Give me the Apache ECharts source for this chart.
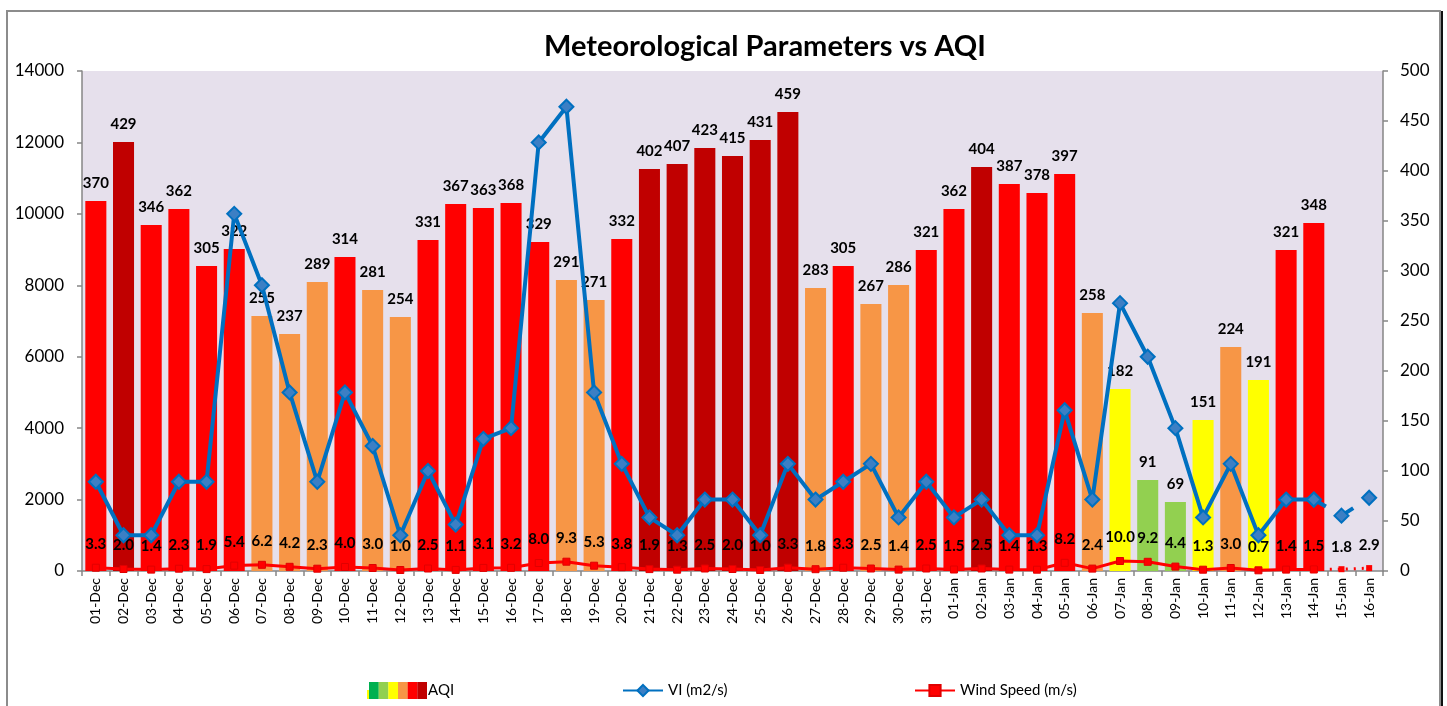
<!DOCTYPE html>
<html><head><meta charset="utf-8">
<script src="https://cdn.jsdelivr.net/npm/echarts@6/dist/echarts.min.js"></script>
<style>html,body{margin:0;padding:0;background:#fff}#c{width:1447px;height:706px}</style>
</head><body><div id="c"></div>
<script>
const categories = ['01-Dec','02-Dec','03-Dec','04-Dec','05-Dec','06-Dec','07-Dec','08-Dec','09-Dec','10-Dec',
  '11-Dec','12-Dec','13-Dec','14-Dec','15-Dec','16-Dec','17-Dec','18-Dec','19-Dec','20-Dec',
  '21-Dec','22-Dec','23-Dec','24-Dec','25-Dec','26-Dec','27-Dec','28-Dec','29-Dec','30-Dec','31-Dec',
  '01-Jan','02-Jan','03-Jan','04-Jan','05-Jan','06-Jan','07-Jan','08-Jan','09-Jan','10-Jan',
  '11-Jan','12-Jan','13-Jan','14-Jan','15-Jan','16-Jan'];
const aqiValues = [370,429,346,362,305,322,255,237,289,314,
  281,254,331,367,363,368,329,291,271,332,
  402,407,423,415,431,459,283,305,267,286,321,
  362,404,387,378,397,258,182,91,69,151,
  224,191,321,348,null,null];
const viValues = [2500,1000,1000,2500,2500,10000,8000,5000,2500,5000,
  3500,1000,2800,1300,3700,4000,12000,13000,5000,3000,
  1500,1000,2000,2000,1000,3000,2000,2500,3000,1500,2500,
  1500,2000,1000,1000,4500,2000,7500,6000,4000,1500,
  3000,1000,2000,2000,1550,2050];
const windValues = [3.3,2.0,1.4,2.3,1.9,5.4,6.2,4.2,2.3,4.0,
  3.0,1.0,2.5,1.1,3.1,3.2,8.0,9.3,5.3,3.8,
  1.9,1.3,2.5,2.0,1.0,3.3,1.8,3.3,2.5,1.4,2.5,
  1.5,2.5,1.4,1.3,8.2,2.4,10.0,9.2,4.4,1.3,
  3.0,0.7,1.4,1.5,1.8,2.9];
const lastMeasured = 44; // index of 14-Jan, after which lines are drawn broken

function aqiColor(v){
  if (v > 400) return '#C00000';
  if (v > 300) return '#FF0000';
  if (v > 200) return '#F79646';
  if (v > 100) return '#FFFF00';
  if (v > 50) return '#92D050';
  return '#00B050';
}

// legend icon for AQI (colour scale stripes)
const cv = document.createElement('canvas');
cv.width = 60; cv.height = 17;
const cx = cv.getContext('2d');
cx.fillStyle = '#FFFF00'; cx.fillRect(0, 8, 2, 9);
['#00B050','#92D050','#FFFF00','#F79646','#FF0000','#C00000'].forEach((c, i) => {
  cx.fillStyle = c; cx.fillRect(2 + i * 9.67, 0, 9.8, 17);
});
const aqiIcon = 'image://' + cv.toDataURL();

const viMain = viValues.map((v, i) => i <= lastMeasured ? v : null);
const viTail = viValues.map((v, i) => i >= lastMeasured ? v : null);
const windMain = windValues.map((v, i) => i <= lastMeasured ? v : null);
const windTail = windValues.map((v, i) => i >= lastMeasured ? v : null);

const FONT = 'Lato, "Open Sans", sans-serif';
const chart = echarts.init(document.getElementById('c'), null, {renderer: 'canvas'});
chart.setOption({
  backgroundColor: '#fff',
  animation: false,
  textStyle: {fontFamily: FONT},
  title: {
    text: 'Meteorological Parameters vs AQI',
    left: 539, top: 27,
    textStyle: {fontSize: 29, fontWeight: 'bold', color: '#000', fontFamily: FONT}
  },
  graphic: [
    {type: 'rect', shape: {x: 7, y: 11, width: 1433, height: 710}, style: {fill: 'none', stroke: '#8C8C8C', lineWidth: 2}, silent: true, z: -1},
    {type: 'line', shape: {x1: 1442, y1: 11, x2: 1442, y2: 706}, style: {stroke: '#111', lineWidth: 2}, silent: true, z: -1}
  ],
  legend: [
    {data: [{name: 'AQI', icon: aqiIcon}], left: 362, top: 677, itemWidth: 60, itemHeight: 17, itemGap: 0,
     textStyle: {fontSize: 15, color: '#000', fontFamily: FONT, padding: [0,0,0,-4]}},
    {data: ['VI (m2/s)'], left: 617, top: 678, itemWidth: 40, itemHeight: 14,
     textStyle: {fontSize: 15, color: '#000', fontFamily: FONT}},
    {data: ['Wind Speed (m/s)'], left: 909, top: 678, itemWidth: 40, itemHeight: 14,
     textStyle: {fontSize: 15, color: '#000', fontFamily: FONT}}
  ],
  grid: {left: 82, right: 64, top: 71, bottom: 135, show: true, backgroundColor: '#E6E0EC', borderWidth: 0},
  xAxis: {
    type: 'category', data: categories, boundaryGap: true,
    axisLine: {lineStyle: {color: '#868686', width: 1.5}},
    axisTick: {show: true, length: 5, lineStyle: {color: '#868686', width: 1.5}},
    axisLabel: {rotate: 90, interval: 0, fontSize: 14, color: '#000', margin: 7, fontFamily: FONT}
  },
  yAxis: [
    {type: 'value', min: 0, max: 14000, interval: 2000, position: 'left',
     axisLine: {show: true, lineStyle: {color: '#868686', width: 1.5}},
     axisTick: {show: true, length: 5, lineStyle: {color: '#868686', width: 1.5}},
     splitLine: {show: false},
     axisLabel: {fontSize: 17, color: '#000', margin: 18, fontFamily: FONT, formatter: v => String(v)}},
    {type: 'value', min: 0, max: 500, interval: 50, position: 'right',
     axisLine: {show: true, lineStyle: {color: '#868686', width: 1.5}},
     axisTick: {show: true, length: 5, lineStyle: {color: '#868686', width: 1.5}},
     splitLine: {show: false},
     axisLabel: {fontSize: 17, color: '#000', margin: 17, fontFamily: FONT, formatter: v => String(v)}}
  ],
  series: [
    {name: 'AQI', type: 'bar', yAxisIndex: 1, data: aqiValues, barWidth: '76%',
     itemStyle: {color: p => aqiColor(p.value)},
     label: {show: true, position: 'top', distance: 10, fontSize: 15, fontWeight: 'bold', color: '#000', fontFamily: FONT},
     z: 1},
    {name: 'Wind Speed (m/s)', type: 'line', yAxisIndex: 1, data: windMain,
     symbol: 'rect', symbolSize: 7, showAllSymbol: true,
     lineStyle: {color: '#FF0000', width: 3},
     itemStyle: {color: '#FF0000', borderColor: '#E00000', borderWidth: 1},
     label: {show: true, position: 'top', distance: 12, fontSize: 15, fontWeight: 'bold', color: '#000', fontFamily: FONT,
             formatter: p => p.value == null ? '' : Number(p.value).toFixed(1)},
     z: 3},
    {name: 'Wind tail', type: 'line', yAxisIndex: 1, data: windTail,
     symbol: 'rect', symbolSize: 6, showAllSymbol: true,
     lineStyle: {color: '#FF0000', width: 3, type: [2, 6]},
     itemStyle: {color: '#FF0000'},
     label: {show: true, position: 'top', distance: 12, fontSize: 15, fontWeight: 'bold', color: '#000', fontFamily: FONT,
             formatter: p => (p.dataIndex > lastMeasured && p.value != null) ? Number(p.value).toFixed(1) : ''},
     z: 3},
    {name: 'VI (m2/s)', type: 'line', yAxisIndex: 0, data: viMain,
     symbol: 'diamond', symbolSize: 14, showAllSymbol: true,
     lineStyle: {color: '#0070C0', width: 4},
     itemStyle: {color: '#3C7FC4', borderColor: '#0070C0', borderWidth: 2},
     z: 4},
    {name: 'VI tail', type: 'line', yAxisIndex: 0, data: viTail,
     symbol: 'diamond', symbolSize: 14, showAllSymbol: true,
     lineStyle: {color: '#0070C0', width: 4, type: [14, 18]},
     itemStyle: {color: '#3C7FC4', borderColor: '#0070C0', borderWidth: 2},
     z: 4}
  ]
});
</script>
</body></html>
